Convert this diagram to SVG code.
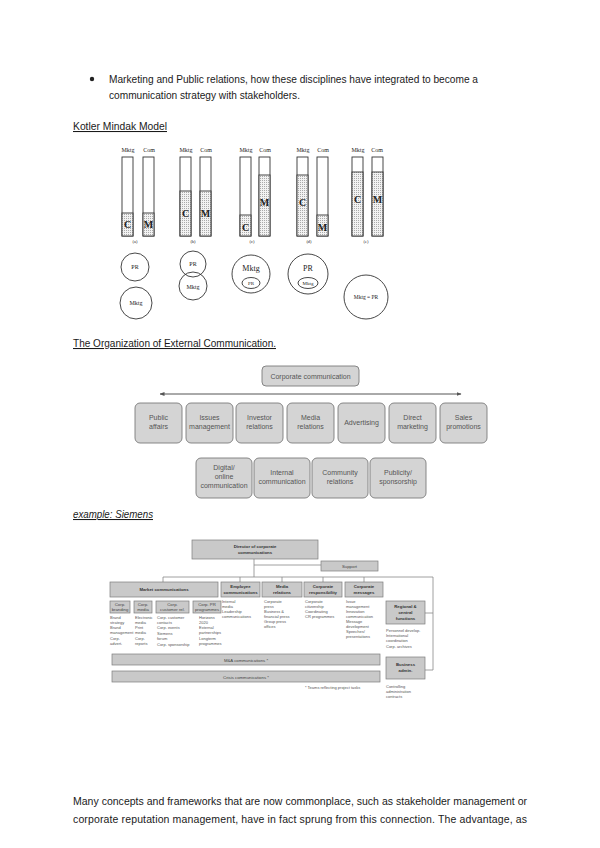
<svg xmlns="http://www.w3.org/2000/svg" width="600" height="848" viewBox="0 0 600 848">
<defs>
<style>
.body{font-family:"Liberation Sans",Arial,sans-serif;font-size:10.5px;fill:#1a1a1a}
.ul{text-decoration:underline}
.ser{font-family:"Liberation Serif","Times New Roman",serif;fill:#222}
.bar{fill:#fff;stroke:#333;stroke-width:0.9}
.fill{fill:url(#dots);stroke:#333;stroke-width:0.9}
.circ{fill:none;stroke:#333;stroke-width:0.9}
.eb{fill:#d4d4d4;stroke:#7a7a7a;stroke-width:0.9}
.et{font-family:"Liberation Sans",Arial,sans-serif;font-size:7px;fill:#555;text-anchor:middle}
.sb{fill:#c9c9c9;stroke:#7d7d7d;stroke-width:0.7}
.st{font-family:"Liberation Sans",Arial,sans-serif;font-size:4.3px;fill:#444;text-anchor:middle}
.stb{font-family:"Liberation Sans",Arial,sans-serif;font-size:4.3px;fill:#333;text-anchor:middle;font-weight:bold}
.sl{font-family:"Liberation Sans",Arial,sans-serif;font-size:4px;fill:#555}
.ln{fill:none;stroke:#888;stroke-width:0.8}
</style>
<pattern id="dots" width="2" height="2" patternUnits="userSpaceOnUse">
<rect width="2" height="2" fill="#f2f2f2"/><rect width="1" height="1" fill="#aaa"/>
</pattern>
<marker id="ah" viewBox="0 0 10 10" refX="9" refY="5" markerWidth="5" markerHeight="5" orient="auto-start-reverse">
<path d="M0,1 L10,5 L0,9 z" fill="#555"/>
</marker>
</defs>
<rect width="600" height="848" fill="#fff"/>

<!-- intro text -->
<g id="intro">
<circle cx="92" cy="79" r="2.2" fill="#222"/>
<text class="body" x="109" y="83" textLength="369" lengthAdjust="spacingAndGlyphs">Marketing and Public relations, how these disciplines have integrated to become a</text>
<text class="body" x="109" y="99" textLength="191" lengthAdjust="spacingAndGlyphs">communication strategy with stakeholders.</text>
<text class="body ul" x="73" y="130" textLength="94" lengthAdjust="spacingAndGlyphs">Kotler Mindak Model</text>
</g>

<!-- Kotler Mindak model -->
<g id="kotler">
<g id="ka">
<text class="ser" x="128" y="152" font-size="6" text-anchor="middle">Mktg</text>
<text class="ser" x="149" y="152" font-size="6" text-anchor="middle">Com</text>
<rect class="bar" x="122" y="157" width="11" height="79"/>
<rect class="fill" x="122" y="213" width="11" height="23"/>
<rect class="bar" x="143" y="157" width="11" height="79"/>
<rect class="fill" x="143" y="213" width="11" height="23"/>
<text class="ser" x="127.5" y="228" font-size="10" font-weight="bold" text-anchor="middle">C</text>
<text class="ser" x="148.5" y="228" font-size="10" font-weight="bold" text-anchor="middle">M</text>
<text class="ser" x="135" y="243" font-size="4.5" text-anchor="middle">(a)</text>
<circle class="circ" cx="135" cy="267" r="14"/>
<text class="ser" x="135" y="269" font-size="6" text-anchor="middle">PR</text>
<circle class="circ" cx="136" cy="303" r="16"/>
<text class="ser" x="136" y="305" font-size="6" text-anchor="middle">Mktg</text>
</g>
<g id="kb">
<text class="ser" x="186" y="152" font-size="6" text-anchor="middle">Mktg</text>
<text class="ser" x="206" y="152" font-size="6" text-anchor="middle">Com</text>
<rect class="bar" x="180" y="157" width="11" height="79"/>
<rect class="fill" x="180" y="191" width="11" height="45"/>
<rect class="bar" x="200" y="157" width="11" height="79"/>
<rect class="fill" x="200" y="191" width="11" height="45"/>
<text class="ser" x="185.5" y="217" font-size="10" font-weight="bold" text-anchor="middle">C</text>
<text class="ser" x="205.5" y="217" font-size="10" font-weight="bold" text-anchor="middle">M</text>
<text class="ser" x="193" y="243" font-size="4.5" text-anchor="middle">(b)</text>
<circle class="circ" cx="193" cy="264" r="13"/>
<text class="ser" x="193" y="266" font-size="6" text-anchor="middle">PR</text>
<circle class="circ" cx="193" cy="286" r="14"/>
<text class="ser" x="193" y="289" font-size="6" text-anchor="middle">Mktg</text>
</g>
<g id="kc">
<text class="ser" x="246" y="152" font-size="6" text-anchor="middle">Mktg</text>
<text class="ser" x="265" y="152" font-size="6" text-anchor="middle">Com</text>
<rect class="bar" x="240" y="157" width="11" height="79"/>
<rect class="fill" x="240" y="215" width="11" height="21"/>
<rect class="bar" x="259" y="157" width="11" height="79"/>
<rect class="fill" x="259" y="175" width="11" height="61"/>
<text class="ser" x="245.5" y="231" font-size="10" font-weight="bold" text-anchor="middle">C</text>
<text class="ser" x="264.5" y="206" font-size="10" font-weight="bold" text-anchor="middle">M</text>
<text class="ser" x="252" y="243" font-size="4.5" text-anchor="middle">(c)</text>
<circle class="circ" cx="251" cy="274" r="19"/>
<text class="ser" x="251" y="271" font-size="8" text-anchor="middle">Mktg</text>
<ellipse class="circ" cx="251" cy="283" rx="9" ry="5.5"/>
<text class="ser" x="251" y="285" font-size="5" text-anchor="middle">PR</text>
</g>
<g id="kd">
<text class="ser" x="303" y="152" font-size="6" text-anchor="middle">Mktg</text>
<text class="ser" x="323" y="152" font-size="6" text-anchor="middle">Com</text>
<rect class="bar" x="297" y="157" width="11" height="79"/>
<rect class="fill" x="297" y="175" width="11" height="61"/>
<rect class="bar" x="317" y="157" width="11" height="79"/>
<rect class="fill" x="317" y="215" width="11" height="21"/>
<text class="ser" x="302.5" y="206" font-size="10" font-weight="bold" text-anchor="middle">C</text>
<text class="ser" x="322.5" y="231" font-size="10" font-weight="bold" text-anchor="middle">M</text>
<text class="ser" x="309" y="243" font-size="4.5" text-anchor="middle">(d)</text>
<circle class="circ" cx="308" cy="274" r="20"/>
<text class="ser" x="308" y="271" font-size="8" text-anchor="middle">PR</text>
<ellipse class="circ" cx="308" cy="283" rx="10" ry="5.5"/>
<text class="ser" x="308" y="285" font-size="5" text-anchor="middle">Mktg</text>
</g>
<g id="ke">
<text class="ser" x="358" y="152" font-size="6" text-anchor="middle">Mktg</text>
<text class="ser" x="377" y="152" font-size="6" text-anchor="middle">Com</text>
<rect class="bar" x="352" y="157" width="11" height="79"/>
<rect class="fill" x="352" y="172" width="11" height="64"/>
<rect class="bar" x="372" y="157" width="11" height="79"/>
<rect class="fill" x="372" y="172" width="11" height="64"/>
<text class="ser" x="357.5" y="203" font-size="10" font-weight="bold" text-anchor="middle">C</text>
<text class="ser" x="377.5" y="203" font-size="10" font-weight="bold" text-anchor="middle">M</text>
<text class="ser" x="366" y="243" font-size="4.5" text-anchor="middle">(e)</text>
<circle class="circ" cx="366" cy="297" r="22"/>
<text class="ser" x="366" y="299" font-size="5.5" text-anchor="middle">Mktg = PR</text>
</g>
</g>

<!-- External communication -->
<text class="body ul" x="73" y="347" textLength="203" lengthAdjust="spacingAndGlyphs">The Organization of External Communication.</text>
<g id="extcomm">
<g class="connectors">
<line x1="160" y1="394" x2="461" y2="394" stroke="#555" stroke-width="1" marker-start="url(#ah)" marker-end="url(#ah)"/>
</g>
<g id="corpcomm"><rect class="eb" x="262" y="366" width="97" height="20" rx="4"/><text class="et" x="310.5" y="378.5">Corporate communication</text></g>
<g id="pubaff"><rect class="eb" x="135" y="403" width="47" height="40" rx="5"/><text class="et" x="158.5" y="420">Public</text><text class="et" x="158.5" y="429">affairs</text></g>
<g id="issues"><rect class="eb" x="186" y="403" width="47" height="40" rx="5"/><text class="et" x="209.5" y="420">Issues</text><text class="et" x="209.5" y="429">management</text></g>
<g id="investor"><rect class="eb" x="236" y="403" width="47" height="40" rx="5"/><text class="et" x="259.5" y="420">Investor</text><text class="et" x="259.5" y="429">relations</text></g>
<g id="media"><rect class="eb" x="287" y="403" width="47" height="40" rx="5"/><text class="et" x="310.5" y="420">Media</text><text class="et" x="310.5" y="429">relations</text></g>
<g id="advert"><rect class="eb" x="338" y="403" width="47" height="40" rx="5"/><text class="et" x="361.5" y="425">Advertising</text></g>
<g id="direct"><rect class="eb" x="389" y="403" width="47" height="40" rx="5"/><text class="et" x="412.5" y="420">Direct</text><text class="et" x="412.5" y="429">marketing</text></g>
<g id="sales"><rect class="eb" x="440" y="403" width="47" height="40" rx="5"/><text class="et" x="463.5" y="420">Sales</text><text class="et" x="463.5" y="429">promotions</text></g>
<g id="digital"><rect class="eb" x="196" y="458" width="56" height="40" rx="5"/><text class="et" x="224" y="470">Digital/</text><text class="et" x="224" y="479">online</text><text class="et" x="224" y="488">communication</text></g>
<g id="internal"><rect class="eb" x="254" y="458" width="56" height="40" rx="5"/><text class="et" x="282" y="475">Internal</text><text class="et" x="282" y="484">communication</text></g>
<g id="community"><rect class="eb" x="312" y="458" width="56" height="40" rx="5"/><text class="et" x="340" y="475">Community</text><text class="et" x="340" y="484">relations</text></g>
<g id="publicity"><rect class="eb" x="370" y="458" width="56" height="40" rx="5"/><text class="et" x="398" y="475">Publicity/</text><text class="et" x="398" y="484">sponsorship</text></g>
</g>

<text class="body ul" x="73" y="518" font-style="italic" textLength="80" lengthAdjust="spacingAndGlyphs">example: Siemens</text>

<!-- Siemens chart -->
<g id="siemens">
<g class="connectors">
<path class="ln" d="M254,559 V577 M254,565 H321 M163,577 H433 V670 H425 M163,577 V582 M240,577 V582 M282,577 V582 M323,577 V582 M364,577 V582 M425,613 H433"/>
</g>
<g id="director"><rect class="sb" x="192" y="540" width="126" height="19"/><text class="stb" x="255" y="548">Director of corporate</text><text class="stb" x="255" y="554">communications</text></g>
<g id="support"><rect class="sb" x="321" y="561" width="57" height="10"/><text class="st" x="349.5" y="567.5">Support</text></g>
<g id="marketcomm"><rect class="sb" x="110" y="582" width="108" height="15"/><text class="stb" x="164" y="591">Market communications</text></g>
<g id="employee"><rect class="sb" x="221" y="582" width="39" height="15"/><text class="stb" x="240.5" y="588">Employee</text><text class="stb" x="240.5" y="593.5">communications</text></g>
<g id="mediarel"><rect class="sb" x="262" y="582" width="40" height="15"/><text class="stb" x="282" y="588">Media</text><text class="stb" x="282" y="593.5">relations</text></g>
<g id="corpresp"><rect class="sb" x="304" y="582" width="38" height="15"/><text class="stb" x="323" y="588">Corporate</text><text class="stb" x="323" y="593.5">responsibility</text></g>
<g id="corpmsg"><rect class="sb" x="345" y="582" width="38" height="15"/><text class="stb" x="364" y="588">Corporate</text><text class="stb" x="364" y="593.5">messages</text></g>
<g id="branding"><rect class="sb" x="110" y="601" width="20" height="12"/><text class="st" x="120" y="606">Corp.</text><text class="st" x="120" y="611">branding</text></g>
<g id="cmedia"><rect class="sb" x="134" y="601" width="18" height="12"/><text class="st" x="143" y="606">Corp.</text><text class="st" x="143" y="611">media</text></g>
<g id="custrel"><rect class="sb" x="156" y="601" width="33" height="12"/><text class="st" x="172.5" y="606">Corp.</text><text class="st" x="172.5" y="611">customer rel.</text></g>
<g id="prprog"><rect class="sb" x="193" y="601" width="28" height="12"/><text class="st" x="207" y="606">Corp. PR</text><text class="st" x="207" y="611">programmes</text></g>
<g id="lists">
<text class="sl" x="110" y="619">Brand</text><text class="sl" x="110" y="624">strategy</text>
<text class="sl" x="110" y="629">Brand</text><text class="sl" x="110" y="634">management</text>
<text class="sl" x="110" y="640">Corp.</text><text class="sl" x="110" y="645">advert.</text>
<text class="sl" x="135" y="619">Electronic</text><text class="sl" x="135" y="624">media</text>
<text class="sl" x="135" y="629">Print</text><text class="sl" x="135" y="634">media</text>
<text class="sl" x="135" y="640">Corp.</text><text class="sl" x="135" y="645">reports</text>
<text class="sl" x="157" y="619">Corp. customer</text><text class="sl" x="157" y="624">contacts</text>
<text class="sl" x="157" y="629">Corp. events</text>
<text class="sl" x="157" y="635">Siemens</text><text class="sl" x="157" y="640">forum</text>
<text class="sl" x="157" y="646">Corp. sponsorship</text>
<text class="sl" x="199" y="619">Horizons</text><text class="sl" x="199" y="624">2020</text>
<text class="sl" x="199" y="629">External</text><text class="sl" x="199" y="634">partnerships</text>
<text class="sl" x="199" y="640">Longterm</text><text class="sl" x="199" y="645">programmes</text>
<text class="sl" x="222" y="603">Internal</text><text class="sl" x="222" y="608">media</text>
<text class="sl" x="222" y="613">Leadership</text><text class="sl" x="222" y="618">communications</text>
<text class="sl" x="264" y="603">Corporate</text><text class="sl" x="264" y="608">press</text>
<text class="sl" x="264" y="613">Business &amp;</text><text class="sl" x="264" y="618">financial press</text>
<text class="sl" x="264" y="623">Group press</text><text class="sl" x="264" y="628">offices</text>
<text class="sl" x="305" y="603">Corporate</text><text class="sl" x="305" y="608">citizenship</text>
<text class="sl" x="305" y="613">Coordinating</text><text class="sl" x="305" y="618">CR programmes</text>
<text class="sl" x="346" y="603">Issue</text><text class="sl" x="346" y="608">management</text>
<text class="sl" x="346" y="613">Innovation</text><text class="sl" x="346" y="618">communication</text>
<text class="sl" x="346" y="623">Message</text><text class="sl" x="346" y="628">development</text>
<text class="sl" x="346" y="633">Speeches/</text><text class="sl" x="346" y="638">presentations</text>
<text class="sl" x="386" y="632">Personnel develop.</text><text class="sl" x="386" y="637">International</text>
<text class="sl" x="386" y="642">coordination</text><text class="sl" x="386" y="648">Corp. archives</text>
<text class="sl" x="386" y="688">Controlling</text><text class="sl" x="386" y="693">administration</text><text class="sl" x="386" y="698">contracts</text>
</g>
<g id="regional"><rect class="sb" x="386" y="601" width="39" height="23"/><text class="stb" x="405.5" y="608">Regional &amp;</text><text class="stb" x="405.5" y="614">central</text><text class="stb" x="405.5" y="620">functions</text></g>
<g id="business"><rect class="sb" x="386" y="657" width="39" height="22"/><text class="stb" x="405.5" y="666">Business</text><text class="stb" x="405.5" y="672">admin.</text></g>
<g id="ma"><rect class="sb" x="112" y="654" width="268" height="11" fill="#d6d6d6"/><text class="st" x="246" y="661.5">M&amp;A communications *</text></g>
<g id="crisis"><rect class="sb" x="112" y="671" width="268" height="11" fill="#d6d6d6"/><text class="st" x="246" y="678.5">Crisis communications *</text></g>
<text class="sl" x="305" y="689">* Teams reflecting project tasks</text>
</g>

<!-- closing text -->
<g id="outro">
<text class="body" x="73" y="805" textLength="454" lengthAdjust="spacing">Many concepts and frameworks that are now commonplace, such as stakeholder management or</text>
<text class="body" x="73" y="823" textLength="454" lengthAdjust="spacing">corporate reputation management, have in fact sprung from this connection. The advantage, as</text>
</g>
</svg>
